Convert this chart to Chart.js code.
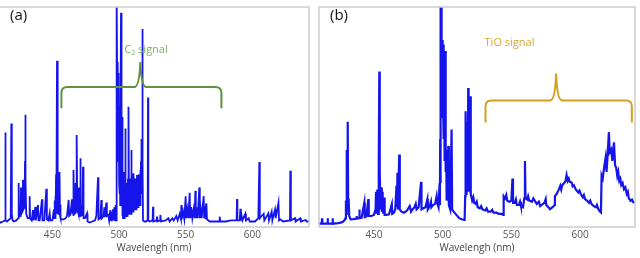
<!DOCTYPE html>
<html lang="en">
  <head>
    <meta charset="UTF-8" />
    <title>Emission spectra</title>
    <script src="https://cdn.jsdelivr.net/npm/chart.js"></script>
    <style>
      body { margin: 0; background: #fff; width: 640px; height: 258px; overflow: hidden; position: relative; }
      canvas { position: absolute; top: 0; }
      #specA { left: -2px; }
      #specB { left: 316px; }
    </style>
  </head>
  <body>
    <canvas id="specA" width="314" height="258"></canvas>
    <canvas id="specB" width="324" height="258"></canvas>
    <script>
      // x tick labels (nm), shared by both panels
      const tickValues = [450, 500, 550, 600];

      // panel (a): [wavelength nm, intensity %]
      const spectrumA = [
        [410, 2.5], [411, 2], [413, 2.5], [414.5, 3], [414.75, 43], [415, 3], [416, 2.5],
        [418.8, 4], [419.25, 47], [419.6, 6], [420.2, 3], [421, 2.5], [423, 3],
        [424.5, 4], [424.75, 20], [425, 5], [426.2, 5], [426.5, 18], [426.8, 6],
        [427.6, 7], [428, 21.5], [428.3, 8], [429.2, 9], [429.5, 30], [429.75, 51], [430, 22],
        [430.4, 6], [431.5, 4], [432.7, 4], [433, 14], [433.3, 4], [434.5, 3], [435.5, 7.7],
        [436, 3], [437.25, 9.2], [437.6, 3], [439.25, 10], [439.6, 3], [440.5, 3],
        [442.25, 12.6], [442.6, 3], [444, 3], [445.5, 17.4], [445.9, 3.5], [447, 3],
        [448, 6.2], [448.4, 3], [450, 3], [451.2, 8], [451.5, 4], [451.8, 12], [452, 4],
        [452.25, 14], [452.5, 5], [452.8, 24], [453, 6], [453.2, 16], [453.5, 75.6],
        [453.8, 20], [454, 6], [454.2, 16], [454.4, 6], [454.6, 22], [454.8, 6], [455, 14],
        [455.25, 6], [455.5, 25], [455.75, 5], [456, 10], [456.3, 4], [457, 3.5], [458.5, 3.5],
        [460, 4], [461, 5], [462.25, 12.3], [462.6, 5], [463.5, 5.5], [464.75, 12.6],
        [465.1, 6], [465.5, 10], [465.75, 5], [466, 25.9], [466.25, 6], [466.5, 14],
        [466.75, 6], [467, 12], [467.3, 6], [467.6, 20], [467.8, 7], [468, 14], [468.25, 7],
        [468.5, 41.8], [468.75, 8], [469, 14], [469.25, 7], [469.5, 12], [469.75, 6], [470, 18],
        [470.25, 6], [470.5, 12], [470.75, 5], [471, 31.2], [471.3, 5], [471.7, 10], [472, 5],
        [472.2, 9], [472.5, 5], [473, 27.4], [473.4, 4], [474.5, 4],
        [476, 6.2], [476.4, 2.5], [478, 2], [480, 2.5], [482, 3], [483, 5], [484.25, 22.6],
        [484.6, 3.5], [486, 4], [486.75, 12.3], [487.1, 4], [488.5, 5], [489, 9], [489.4, 4.5],
        [490.5, 11.1], [490.9, 5], [492, 5.5], [492.6, 3], [493.5, 7.7], [494, 3], [494.6, 7],
        [495, 3], [495.5, 8], [496, 3], [496.5, 9], [497, 3], [497.5, 10], [497.8, 3],
        [498, 30], [498.2, 5], [498.5, 105], [498.7, 60], [498.9, 40], [499.1, 75], [499.3, 30],
        [499.5, 70], [499.7, 35], [499.9, 65], [500.1, 20], [500.3, 55], [500.5, 15],
        [500.7, 45], [500.9, 10], [501.1, 40], [501.3, 60], [501.5, 97.4], [501.7, 40],
        [501.9, 50], [502.1, 10], [502.3, 50], [502.5, 5], [502.75, 20], [503, 4],
        [503.25, 25], [503.5, 4], [503.75, 16], [504, 4], [504.25, 18], [504.5, 5],
        [504.75, 44.8], [505, 5], [505.25, 18], [505.5, 5], [505.75, 20], [506, 5],
        [506.25, 16], [506.5, 5], [506.75, 22], [507, 6], [507.25, 54.7], [507.5, 6],
        [507.75, 20], [508, 6], [508.25, 22], [508.5, 6], [508.75, 19], [509, 6],
        [509.25, 35], [509.5, 7], [509.75, 21], [510, 7], [510.25, 24], [510.5, 7],
        [510.75, 20], [511, 24.4], [511.25, 8], [511.5, 22], [511.75, 8], [512, 22],
        [512.25, 8], [512.5, 21], [512.75, 8], [513, 20], [513.25, 9], [513.5, 23.6],
        [513.75, 9], [514, 22], [514.25, 9], [514.5, 22], [514.75, 10], [515, 24],
        [515.25, 10], [515.5, 22], [515.75, 10], [516, 26], [516.25, 12], [516.5, 30],
        [516.75, 15], [517, 40], [517.25, 20], [517.5, 90], [517.8, 30], [518, 3],
        [519, 2.5], [520, 2.5], [521.5, 3], [521.75, 58.9], [522, 3],
        [523, 2.5], [525.2, 3], [525.5, 9.2], [525.8, 2.5], [528.2, 3], [528.5, 4.7],
        [528.8, 2.5], [530.8, 3], [531, 5.5], [531.5, 2.5], [535, 3], [537, 4], [538, 2.5],
        [540, 4], [541, 3], [543, 5], [544, 3], [545.5, 6], [546.5, 3.5], [546.75, 10],
        [547, 3.5], [548, 7], [549, 3.5], [550, 14], [550.4, 4], [551.2, 8], [552, 4],
        [553, 15.6], [553.4, 4], [554.2, 9], [555, 4], [556, 8], [556.7, 4], [557.25, 16.5],
        [557.6, 4], [558.5, 9], [559, 4], [560.25, 18], [560.6, 4], [561.3, 8], [562, 4],
        [563.5, 14], [563.9, 4], [564.6, 7], [565, 3.5], [565.5, 10.8], [566, 3.5], [568, 2.5],
        [570, 2.5], [575.2, 2.5], [575.5, 4.7], [576, 2.5], [580, 2.5],
        [584, 3], [588.2, 3], [588.5, 12.7], [588.8, 3], [590.6, 3], [591, 8.3], [591.4, 3],
        [592, 5], [592.6, 3], [594.75, 6], [595.2, 3], [597.25, 4], [598, 2.5], [602, 2.5],
        [604.5, 4], [605.25, 29.5], [605.6, 4], [607, 5], [608.5, 6], [609, 3], [612, 6.2],
        [612.5, 3], [614.5, 7], [615, 3], [617, 8], [617.5, 4], [619.6, 11], [620, 3],
        [621, 3.5], [623, 2.5], [628.2, 3], [628.5, 25.6], [628.9, 3], [632, 4], [632.5, 2.5],
        [636, 4], [636.4, 2.5], [640, 3.2], [640.8, 2.5], [642.5, 2.5]
      ];

      // panel (b): [wavelength nm, intensity %]
      const spectrumB = [
        [410, 1.5], [412, 1.5], [412.2, 4], [412.4, 1.5], [416.1, 1.5], [416.3, 4], [416.5, 1.5],
        [419.7, 1.5], [419.9, 4], [420.1, 1.5], [424, 1.8], [427, 2.2], [428.5, 3], [429.3, 4],
        [429.6, 12], [429.9, 6], [430.2, 35], [430.5, 14], [430.9, 47.8], [431.2, 13],
        [431.6, 12], [432, 5], [433, 3.5], [435, 3.6], [437.2, 3.8], [437.4, 5], [437.6, 3.8],
        [439.2, 4], [439.4, 8], [439.6, 4], [441, 4.2], [443, 11], [443.3, 4.5], [444.5, 4.8],
        [445.9, 12.7], [446.2, 5], [448, 5], [450, 5.5], [451.2, 8], [451.5, 16], [452, 6],
        [452.5, 17], [453, 6], [453.5, 30], [453.9, 70.7], [454.2, 25], [454.7, 8],
        [455.2, 18], [455.7, 7], [456.3, 16], [456.7, 6], [457.5, 13.4], [457.8, 5.5],
        [459, 5.5], [461, 5.8], [463, 10.4], [463.3, 6], [464.5, 6.5], [465.5, 8], [466.4, 18.7],
        [466.7, 9], [467.1, 24.7], [467.5, 8], [468.4, 33], [468.8, 8], [470, 7], [472, 6.5],
        [474, 7.5], [476, 9.5], [477, 7], [478, 8], [479.5, 9], [480.4, 10.5], [481, 8],
        [482.5, 9], [484.3, 20.5], [484.6, 8], [486, 8.5], [487.5, 9], [488.9, 12.7], [489.2, 8],
        [490.5, 9.5], [491.5, 11.5], [491.8, 9], [493, 10], [494.5, 10.5], [495.6, 14],
        [496, 11], [497, 9], [497.8, 20], [498, 10], [498.2, 40], [498.4, 20], [498.6, 105],
        [498.8, 50], [499, 90], [499.15, 60], [499.3, 105], [499.45, 65], [499.6, 80],
        [499.75, 60], [499.9, 85], [500.05, 55], [500.2, 80], [500.35, 55], [500.5, 83],
        [500.65, 45], [500.8, 70], [500.95, 40], [501.1, 75], [501.25, 35], [501.4, 70],
        [501.6, 30], [501.8, 60], [502, 30], [502.2, 80], [502.4, 25], [502.6, 35],
        [502.8, 12], [503, 20], [503.5, 12], [504.1, 36.8], [504.5, 10], [505.5, 8],
        [506.5, 44.3], [506.9, 8], [508, 7], [510, 5.5], [512, 4], [514, 3.5], [515.5, 3.2],
        [516, 3.2], [516.4, 14], [516.7, 52.6], [517, 15], [517.3, 45], [517.6, 15],
        [517.9, 48], [518.2, 16], [518.6, 63.2], [518.9, 18], [519.2, 52], [519.5, 16],
        [519.8, 52], [520, 17], [520.3, 59.4], [520.6, 15], [521.5, 12], [522.3, 13.5],
        [523, 11], [524, 10.5], [524.8, 11.5], [525.5, 9], [527, 8.5], [528, 9.5], [529, 8],
        [531, 7.5], [532, 8.5], [533, 7], [535, 7], [536, 7.8], [537, 6.5], [539, 6.5],
        [541, 6], [543, 6], [544, 5.5], [544.4, 14], [545.5, 13], [546.3, 14.5], [547, 12],
        [548.5, 11.5], [550, 12], [550.8, 22], [551.2, 11], [552.5, 11], [553.3, 12.5],
        [554, 10], [555.5, 10], [556.3, 11.5], [557, 9.5], [558.5, 9], [559.4, 13], [559.9, 30],
        [560.3, 13], [561.5, 12.5], [562.2, 14], [563, 12], [565, 11.5], [566, 13], [567, 12],
        [568.5, 10.5], [570, 11.5], [571, 9.5], [572, 10], [574, 11], [575, 12.7], [575.4, 10],
        [577, 9], [578.1, 8.1], [580, 9], [581.5, 10], [581.7, 14], [583, 15], [584.5, 17],
        [585.6, 18.7], [586.3, 17], [587, 19], [588.5, 20], [589.5, 21], [590.2, 23.5], [591, 21],
        [591.8, 22], [592.5, 20.5], [593.9, 20.2], [594.6, 18.5], [595.5, 19], [597, 17],
        [598.7, 15.7], [599.6, 16.5], [600.5, 15], [602, 13.5], [602.8, 14.5], [603.6, 12.7],
        [605, 12], [606.5, 11], [607.4, 12], [608.4, 10.4], [610, 9.5], [611.5, 9],
        [612.3, 10], [613.3, 8.1], [614.5, 7], [615.2, 6.6], [615.7, 23.4], [616.5, 22],
        [617.5, 27], [618.6, 31.5], [619.3, 25], [620, 32], [621, 43.1], [621.6, 34],
        [622.7, 35.3], [623.5, 30], [624.7, 38.5], [625.5, 28], [626.3, 27], [627.1, 23.2],
        [627.8, 25], [628.5, 21], [629.3, 22], [630, 19], [631, 20], [632, 17.2], [633, 18],
        [634, 15], [634.8, 16], [635.5, 13], [636.8, 11.9], [637.8, 12.5], [638.7, 11.3], [640, 11]
      ];

      // annotation braces: [left, tip, right] nm and [end, bar, tip] intensity
      const braceA = { x: [456.8, 516, 576.8], y: [54, 63.6, 75], color: "rgb(95,145,65)",
        label: ["C", "2", " signal"], at: [504, 80.5], textColor: "rgb(125,175,95)" };
      const braceB = { x: [531.2, 582.6, 637.7], y: [47.5, 57.5, 69.7], color: "rgb(208,160,30)",
        label: ["TiO signal"], at: [530.5, 83.7], textColor: "rgb(215,168,45)" };

      const fontFamily = "'Open Sans', 'DejaVu Sans', sans-serif";

      const decorate = {
        id: "decorate",
        afterDatasetsDraw(chart, args, opts) {
          const { ctx, chartArea: a, scales } = chart;
          const xs = scales.x, ys = scales.y;
          ctx.save();
          // frame
          ctx.strokeStyle = "#cdcdcd";
          ctx.lineWidth = 1.5;
          ctx.strokeRect(a.left, a.top, a.right - a.left, a.bottom - a.top);

          // panel tag
          ctx.fillStyle = "#111";
          ctx.font = "15px " + fontFamily;
          ctx.textBaseline = "middle";
          ctx.fillText(opts.tag, a.left + 11, a.top + 9);

          // brace
          const b = opts.brace;
          const X0 = xs.getPixelForValue(b.x[0]);
          const XM = xs.getPixelForValue(b.x[1]);
          const X1 = xs.getPixelForValue(b.x[2]);
          const YE = ys.getPixelForValue(b.y[0]);
          const YB = ys.getPixelForValue(b.y[1]);
          const YT = ys.getPixelForValue(b.y[2]);
          const r = 6;
          ctx.strokeStyle = b.color;
          ctx.lineWidth = 2;
          ctx.beginPath();
          ctx.moveTo(X0, YE);
          ctx.lineTo(X0, YB + r);
          ctx.quadraticCurveTo(X0, YB, X0 + r, YB);
          ctx.lineTo(XM - 6, YB);
          ctx.quadraticCurveTo(XM - 1, YB, XM, YT);
          ctx.quadraticCurveTo(XM + 1, YB, XM + 6, YB);
          ctx.lineTo(X1 - r, YB);
          ctx.quadraticCurveTo(X1, YB, X1, YB + r);
          ctx.lineTo(X1, YE);
          ctx.stroke();

          // brace label
          ctx.fillStyle = b.textColor;
          let tx = xs.getPixelForValue(b.at[0]);
          const ty = ys.getPixelForValue(b.at[1]);
          b.label.forEach((part, i) => {
            const sub = b.label.length > 1 && i === 1;
            ctx.font = (sub ? "7px " : "11px ") + fontFamily;
            ctx.fillText(part, tx, sub ? ty + 3 : ty);
            tx += ctx.measureText(part).width;
          });
          ctx.restore();
        },
      };

      function plotSpectrum(id, spectrum, xMax, padLeft, padRight, tag, brace, lineWidth) {
        new Chart(document.getElementById(id), {
          type: "line",
          data: {
            datasets: [
              {
                data: spectrum.map(([x, y]) => ({ x, y })),
                borderColor: "rgb(20,20,235)",
                borderWidth: lineWidth,
                pointRadius: 0,
                tension: 0,
              },
            ],
          },
          options: {
            responsive: false,
            animation: false,
            devicePixelRatio: 1,
            layout: { padding: { top: 7, left: padLeft, right: padRight, bottom: 0 } },
            plugins: {
              legend: { display: false },
              tooltip: { enabled: false },
              decorate: { tag, brace },
            },
            scales: {
              x: {
                type: "linear",
                min: 410,
                max: xMax,
                afterBuildTicks: (scale) => {
                  scale.ticks = tickValues.map((v) => ({ value: v }));
                },
                afterFit: (scale) => {
                  scale.height = 31;
                },
                grid: { display: false, drawTicks: false },
                border: { display: false },
                ticks: {
                  padding: 2,
                  color: "#555",
                  font: { size: 10, family: fontFamily },
                  maxRotation: 0,
                },
                title: {
                  display: true,
                  text: "Wavelengh (nm)",
                  color: "#444",
                  font: { size: 10, family: fontFamily },
                  padding: { top: 0, bottom: 4 },
                },
              },
              y: { display: false, min: 0, max: 100 },
            },
          },
          plugins: [decorate],
        });
      }

      plotSpectrum("specA", spectrumA, 642.5, 1, 3, "(a)", braceA, 1.8);
      plotSpectrum("specB", spectrumB, 640, 3, 5, "(b)", braceB, 2.2);
    </script>
  </body>
</html>
